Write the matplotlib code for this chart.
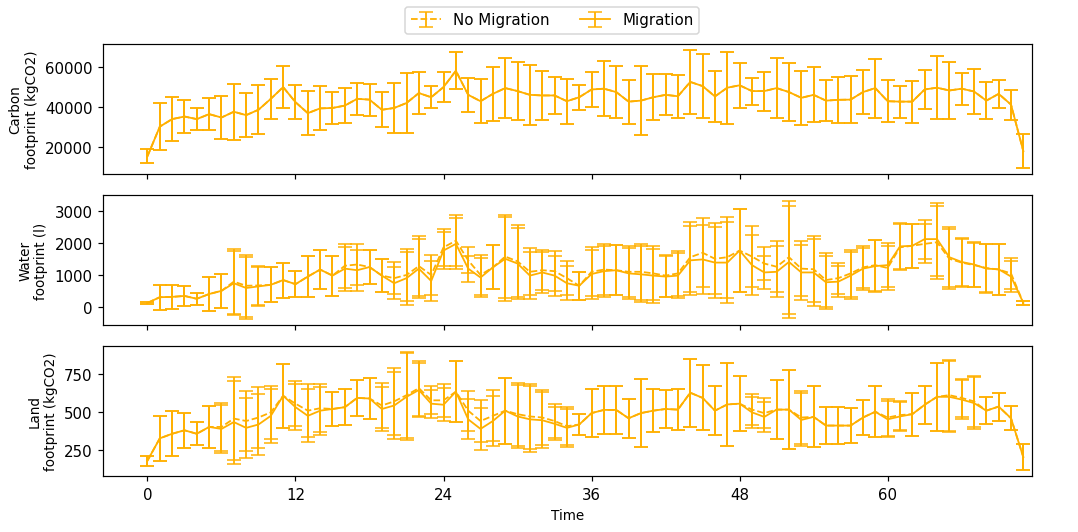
import numpy as np
import matplotlib.pyplot as plt

time = list(range(72))

carbon_mig = [15300, 30200, 34000, 35300, 34000, 36500, 34800, 37700, 36000, 38700,
              44200, 50100, 42500, 37000, 39400, 39600, 40800, 44200, 43800, 38700,
              39600, 42100, 47100, 45000, 50100, 58300, 46200, 43000, 46700, 49600,
              48100, 46200, 45900, 45900, 43000, 45000, 48900, 49300, 47600, 42800,
              43300, 45000, 46200, 45500, 52700, 50600, 45400, 49800, 51000, 48100,
              48100, 49600, 47600, 44700, 46200, 43300, 43700, 43800, 47600, 49600,
              43000, 42800, 42800, 48900, 49800, 48400, 49300, 47900, 43300, 46700,
              41300, 17800]
carbon_nomig = list(carbon_mig)
carbon_err = [3600, 11900, 11100, 8300, 5700, 8100, 10900, 14000, 11200, 12300,
              10200, 10400, 8500, 10900, 11100, 8200, 8800, 8100, 8100, 8800,
              12800, 15200, 10700, 5500, 7700, 9400, 8500, 11100, 13400, 14900,
              14600, 15100, 12200, 9200, 11300, 6200, 8600, 13900, 13000, 11100,
              17300, 11500, 10300, 10800, 16100, 16000, 12900, 18100, 11200, 6800,
              9800, 14900, 14700, 13600, 13900, 10200, 11700, 11700, 11100, 14800,
              10500, 8100, 10600, 9900, 15700, 14300, 8100, 11100, 9200, 7200,
              7500, 8500]

water_mig = [120, 300, 310, 340, 250, 400, 500, 740, 590, 640,
             690, 840, 710, 950, 1170, 980, 1200, 1150, 1250, 980,
             740, 900, 1200, 810, 1770, 1980, 1200, 920, 1240, 1510,
             1360, 980, 1080, 980, 740, 660, 1030, 1120, 1150, 1050,
             1020, 980, 950, 980, 1460, 1490, 1390, 1390, 1770, 1310,
             1080, 1100, 1410, 1080, 1080, 770, 790, 980, 1200, 1280,
             1310, 1900, 1920, 2130, 2130, 1560, 1410, 1330, 1200, 1180,
             950, 120]
water_nomig = [120, 300, 310, 340, 250, 400, 500, 790, 660, 670,
               690, 840, 710, 950, 1170, 980, 1290, 1330, 1250, 980,
               900, 1000, 1280, 1000, 1870, 2080, 1460, 1000, 1240, 1580,
               1430, 1100, 1150, 1120, 900, 660, 1100, 1170, 1150, 1100,
               1100, 1050, 980, 1050, 1560, 1700, 1510, 1560, 1770, 1580,
               1360, 1260, 1560, 1200, 1180, 840, 900, 1050, 1240, 1310,
               1220, 1870, 1920, 1980, 2030, 1510, 1390, 1310, 1220, 1170,
               1050, 120]
water_err = [20, 396, 386, 303, 180, 540, 530, 1013, 982, 602,
             555, 550, 401, 633, 627, 632, 694, 643, 524, 530,
             500, 833, 936, 632, 591, 807, 411, 617, 694, 1317,
             1131, 746, 633, 627, 530, 447, 771, 807, 782, 807,
             885, 848, 658, 720, 1096, 1085, 1116, 1270, 1296, 951,
             530, 802, 1774, 864, 1044, 838, 489, 730, 663, 807,
             700, 725, 694, 617, 1152, 941, 756, 694, 771, 797,
             499, 60]

land_mig = [182, 329, 359, 382, 359, 404, 391, 436, 398, 420,
            477, 609, 534, 477, 511, 522, 534, 595, 591, 522,
            545, 602, 647, 557, 550, 636, 454, 391, 443, 511,
            473, 454, 448, 425, 398, 420, 495, 516, 516, 461,
            495, 511, 522, 518, 629, 595, 511, 552, 557, 500,
            470, 518, 518, 450, 470, 413, 413, 413, 466, 504,
            454, 473, 488, 550, 602, 602, 584, 561, 511, 538,
            461, 205]
land_nomig = [182, 329, 359, 382, 359, 404, 404, 459, 443, 466,
              500, 609, 557, 511, 527, 522, 534, 595, 591, 545,
              572, 613, 659, 579, 579, 636, 511, 443, 477, 511,
              488, 473, 466, 443, 409, 420, 495, 516, 516, 461,
              495, 511, 522, 518, 629, 595, 511, 552, 557, 518,
              495, 518, 518, 466, 470, 413, 413, 413, 466, 504,
              466, 482, 488, 550, 602, 613, 595, 572, 511, 538,
              461, 205]
land_err = [32, 148, 148, 114, 77, 136, 159, 273, 199, 201,
            176, 210, 150, 174, 157, 114, 119, 117, 134, 145,
            222, 285, 180, 91, 108, 202, 131, 137, 167, 216,
            207, 216, 183, 110, 127, 70, 159, 159, 157, 127,
            221, 142, 128, 137, 225, 214, 162, 273, 179, 101,
            99, 193, 258, 174, 201, 122, 123, 115, 113, 168,
            119, 95, 142, 125, 222, 233, 127, 170, 89, 92,
            80, 85]

ylabels = ['Carbon\nfootprint (kgCO2)', 'Water\nfootprint (l)', 'Land\nfootprint (kgCO2)']
yticks = [[20000, 40000, 60000], [0, 1000, 2000, 3000], [250, 500, 750]]
color = '#FFB000'

fig, axes = plt.subplots(3, 1, sharex=True, figsize=(9.99, 4.935), dpi=108)
fig.subplots_adjust(left=0.0955, right=0.9565, top=0.9156, bottom=0.105, hspace=0.16)

panels = [(carbon_nomig, carbon_mig, carbon_err),
          (water_nomig, water_mig, water_err),
          (land_nomig, land_mig, land_err)]

for ax, (nomig, mig, err), lab, yt in zip(axes, panels, ylabels, yticks):
    ax.errorbar(time, nomig, yerr=err, color=color, linestyle='--', linewidth=1.2,
                capsize=4.5, label='No Migration')
    ax.errorbar(time, mig, yerr=err, color=color, linestyle='-', linewidth=1.2,
                capsize=4.5, label='Migration')
    ax.set_ylabel(lab, fontsize=9)
    ax.set_yticks(yt)

axes[-1].set_xticks([0, 12, 24, 36, 48, 60])
axes[-1].set_xlim(-3.6, 71.7)
axes[-1].set_xlabel('Time', fontsize=9)

handles, labels = axes[0].get_legend_handles_labels()
fig.legend(handles, labels, loc='upper center', ncol=2, bbox_to_anchor=(0.512, 1.0))

fig.savefig('out.png', dpi=108)
